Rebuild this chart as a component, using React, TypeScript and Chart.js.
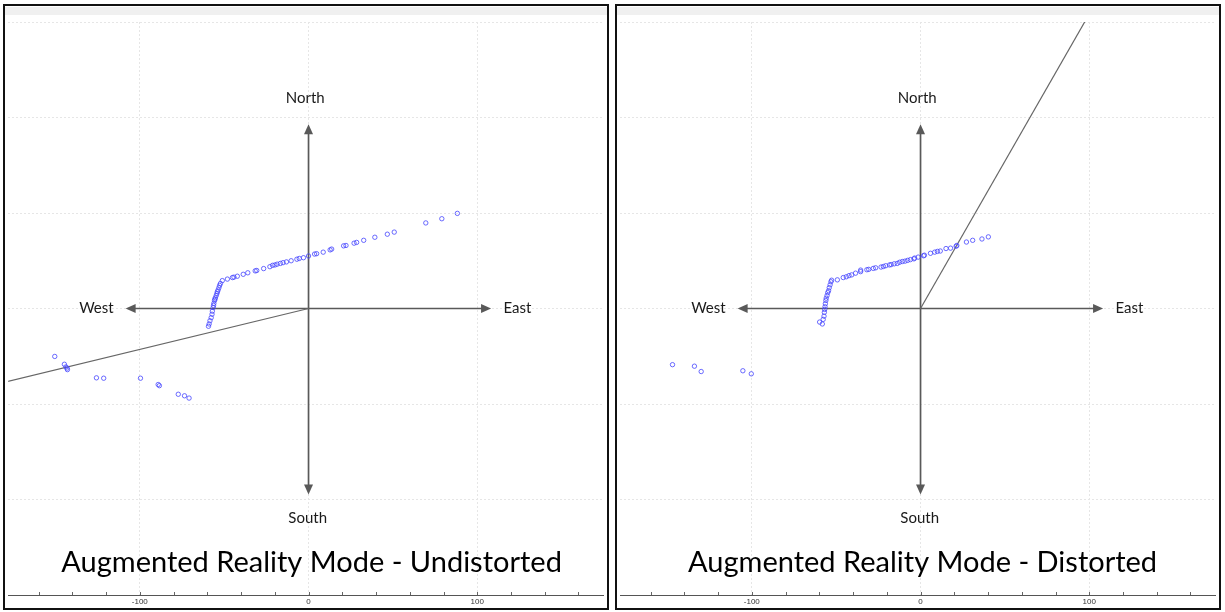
import React, { useEffect, useRef } from 'react';
import { Chart, registerables } from 'chart.js';

Chart.register(...registerables);

// ---- axis / grid values ----
const xTickValues = [-100, 0, 100];
const xMinorStep = 20;
const xRange = [-178, 175];
const yGridValues = [-150, -100, -50, 0, 50, 100, 150];
const yRange = [-150, 150];

// ---- compass (data units) ----
const compassLabels = ['North', 'South', 'West', 'East'];
const compassLabelX = [-2, -0.5, -115.5, 115.5];
const compassLabelY = [110, -110, 0, 0];
const compassAlign = ['center', 'center', 'right', 'left'];
const arrowTipX = [0, 0, -108.4, 108.2];
const arrowTipY = [96.5, -97.4, 0, 0];

// ---- titles ----
const titles = ['Augmented Reality Mode - Undistorted', 'Augmented Reality Mode - Distorted'];
const titleX = [1.8, 1.2];
const titleY = [-133, -133];

// ---- heading lines ----
const undistortedHeadingX = [0, -200];
const undistortedHeadingY = [0, -42.9];
const distortedHeadingX = [0, 100];
const distortedHeadingY = [0, 154.2];

// ---- measured points: undistorted ----
const undistortedX = [
  88.2, 79, 69.5, 50.8, 46.7, 39.3, 32.7, 28.5, 27, 22.2, 20.8, 13.7, 12.8, 8.7, 4.8, 3.6, 0,
  -3, -5.5, -6.9, -10.3, -13.1, -15.1, -16.7, -18.6, -19.9, -21.3, -22.9, -26.6, -30.7, -31.6,
  -36, -38.7, -42.2, -44.2, -45.1, -48.1,
  -51.1, -52.2, -52.7, -53.1, -53.6, -54, -54.3, -54.7, -55.2, -55.5, -55.7, -56.1, -56.3, -56.5,
  -57, -57.2, -57.7, -58.4, -58.9, -59.3,
  -150.4, -144.7, -143.8, -143.1, -142.9, -125.7, -121.4, -99.6, -89.1, -88.4, -77.2, -73.5, -70.8,
];
const undistortedY = [
  49.8, 47, 44.8, 40, 38.9, 37.3, 35.7, 34.6, 34.2, 33, 32.8, 31.1, 30.7, 29.5, 28.7, 28.5, 27.5,
  26.6, 26.2, 25.8, 25, 24.4, 24, 23.6, 23.2, 22.8, 22.6, 21.9, 20.9, 19.9, 19.7,
  18.7, 17.9, 16.9, 16.4, 16.2, 15.4,
  14.6, 13.1, 12.1, 10.9, 9.7, 8.8, 7.9, 6.8, 5.6, 4.9, 4.2, 2.7, 1.6, 0.5,
  -1.4, -3, -4.8, -6.4, -8.1, -9.3,
  -25.1, -29.2, -30.6, -31.2, -32, -36.3, -36.5, -36.5, -39.8, -40.4, -44.9, -45.7, -46.9,
];

// ---- measured points: distorted ----
const distortedX = [
  40.2, 36.4, 30.9, 27.2, 21.5, 21.1, 17.8, 15.1, 11.7, 10, 8.4, 5.9, 2.3, 1.8, -1.4, -3.5, -3.9,
  -6, -7.6, -9.2, -10.8, -12.4, -13.8, -15.6, -17.4, -18.4, -20.6, -22, -23.4, -26.6, -28, -30.7,
  -31.8, -35.5, -35.5, -38.5, -40.8, -42.4, -44, -45.8, -49.3,
  -52.7, -53.1, -53.6, -54.1, -54.5, -55, -55.4, -55.9, -56.1, -56.4, -56.6, -56.8, -57, -57.2,
  -57.7, -59.8, -58.2,
  -147, -134, -130, -105.3, -100.3,
];
const distortedY = [
  37.5, 36.4, 35.7, 34.8, 33, 32.6, 31.6, 31.4, 30.1, 29.9, 29.5, 28.9, 27.9, 27.6, 26.9, 26.4, 26,
  25.6, 25.2, 24.8, 24.6, 24.2, 23.6, 23.4, 23, 22.8, 22.4, 22, 21.7, 21.3, 21, 20.5,
  20.3, 20.1, 19.3, 18.5, 17.6, 17.2, 16.6, 16.2, 15,
  14.8, 14, 12.4, 10.9, 9.3, 8.3, 6.8, 5.4, 4.2, 2.5, 0.9, -0.5, -2, -4,
  -5.7, -7.1, -8.1,
  -29.4, -30.2, -33, -32.6, -34.2,
];

const LABEL_FONT = '15px Lato, "Open Sans", sans-serif';
const TITLE_FONT = '29px Lato, "Open Sans", sans-serif';

function makeOverlay(panelIndex: number) {
  return {
    id: 'compassOverlay' + panelIndex,
    beforeDatasetsDraw(chart: any) {
      const { ctx, scales } = chart;
      const xs = scales.x;
      const ys = scales.y;
      const ox = xs.getPixelForValue(0);
      const oy = ys.getPixelForValue(0);
      ctx.save();
      ctx.strokeStyle = '#595959';
      ctx.fillStyle = '#595959';
      ctx.lineWidth = 1.7;
      for (let i = 0; i < arrowTipX.length; i++) {
        const tx = xs.getPixelForValue(arrowTipX[i]);
        const ty = ys.getPixelForValue(arrowTipY[i]);
        const dx = tx - ox;
        const dy = ty - oy;
        const len = Math.hypot(dx, dy);
        const ux = dx / len;
        const uy = dy / len;
        const head = 10;
        const hw = 4.5;
        const bx = tx - ux * head;
        const by = ty - uy * head;
        ctx.beginPath();
        ctx.moveTo(ox, oy);
        ctx.lineTo(bx + ux, by + uy);
        ctx.stroke();
        ctx.beginPath();
        ctx.moveTo(tx, ty);
        ctx.lineTo(bx - uy * hw, by + ux * hw);
        ctx.lineTo(bx + uy * hw, by - ux * hw);
        ctx.closePath();
        ctx.fill();
      }
      // minor ticks on the bottom axis, pointing up into the plot
      ctx.lineWidth = 1;
      ctx.strokeStyle = '#666';
      const bottom = chart.chartArea.bottom;
      const start = Math.ceil(xs.min / xMinorStep) * xMinorStep;
      for (let v = start; v <= xs.max; v += xMinorStep) {
        const px = Math.round(xs.getPixelForValue(v)) + 0.5;
        ctx.beginPath();
        ctx.moveTo(px, bottom);
        ctx.lineTo(px, bottom - 3);
        ctx.stroke();
      }
      ctx.restore();
    },
    afterDatasetsDraw(chart: any) {
      const { ctx, scales } = chart;
      const xs = scales.x;
      const ys = scales.y;
      ctx.save();
      ctx.fillStyle = '#1a1a1a';
      ctx.textBaseline = 'middle';
      ctx.font = LABEL_FONT;
      for (let i = 0; i < compassLabels.length; i++) {
        ctx.textAlign = compassAlign[i];
        ctx.fillText(compassLabels[i], xs.getPixelForValue(compassLabelX[i]), ys.getPixelForValue(compassLabelY[i]));
      }
      ctx.font = TITLE_FONT;
      ctx.fillStyle = '#000';
      ctx.textAlign = 'center';
      ctx.fillText(titles[panelIndex], xs.getPixelForValue(titleX[panelIndex]), ys.getPixelForValue(titleY[panelIndex]));
      ctx.restore();
    },
  };
}

type PanelProps = {
  panelIndex: number;
  left: number;
  xs: number[];
  ys: number[];
  hx: number[];
  hy: number[];
};

function Panel({ panelIndex, left, xs, ys, hx, hy }: PanelProps) {
  const ref = useRef<HTMLCanvasElement>(null);
  useEffect(() => {
    if (!ref.current) return;
    const chart = new Chart(ref.current, {
      type: 'scatter',
      data: {
        datasets: [
          {
            data: xs.map((v, i) => ({ x: v, y: ys[i] })),
            pointRadius: 2.2,
            pointHoverRadius: 2.2,
            borderWidth: 1,
            borderColor: 'rgba(70,70,255,0.8)',
            backgroundColor: 'rgba(255,255,255,0)',
          },
          {
            data: hx.map((v, i) => ({ x: v, y: hy[i] })),
            showLine: true,
            pointRadius: 0,
            borderColor: '#666',
            borderWidth: 1.2,
          },
        ],
      },
      options: {
        animation: false,
        responsive: false,
        events: [],
        layout: { padding: { top: 16, left: 0, right: 0, bottom: 0 } },
        plugins: {
          legend: { display: false },
          tooltip: { enabled: false },
          title: { display: false },
        },
        scales: {
          x: {
            type: 'linear',
            min: xRange[0],
            max: xRange[1],
            afterBuildTicks: (s: any) => {
              s.ticks = xTickValues.map((value) => ({ value }));
            },
            afterFit: (s: any) => {
              s.height = 13;
            },
            grid: { color: '#e6e6e6', drawTicks: false, lineWidth: 1 },
            border: { display: true, color: '#555', width: 1, dash: [2, 2] },
            ticks: {
              padding: 2,
              color: '#333',
              font: { size: 8, family: '"Liberation Sans", Arial, sans-serif' },
              callback: (v: any) => String(v),
            },
          },
          y: {
            type: 'linear',
            min: yRange[0],
            max: yRange[1],
            afterBuildTicks: (s: any) => {
              s.ticks = yGridValues.map((value) => ({ value }));
            },
            afterFit: (s: any) => {
              s.width = 0;
            },
            grid: { color: '#e6e6e6', drawTicks: false, lineWidth: 1 },
            border: { display: false, dash: [2, 2] },
            ticks: { display: false },
          },
        },
      },
      plugins: [makeOverlay(panelIndex)],
    } as any);
    return () => chart.destroy();
  }, []);

  return (
    <div
      style={{
        position: 'absolute',
        left,
        top: 4,
        width: 606,
        height: 606,
        boxSizing: 'border-box',
        border: '2px solid #111',
        background: '#fff',
      }}
    >
      <canvas ref={ref} width={602} height={602} style={{ position: 'absolute', left: 0, top: 0, width: 602, height: 602 }} />
      <div style={{ position: 'absolute', left: 0, top: 1, width: 602, height: 8, background: '#f0f0f0' }} />
    </div>
  );
}

export default function App() {
  return (
    <div style={{ position: 'absolute', left: 0, top: 0, width: 1225, height: 612, background: '#fff', overflow: 'hidden' }}>
      <Panel panelIndex={0} left={3} xs={undistortedX} ys={undistortedY} hx={undistortedHeadingX} hy={undistortedHeadingY} />
      <Panel panelIndex={1} left={615} xs={distortedX} ys={distortedY} hx={distortedHeadingX} hy={distortedHeadingY} />
    </div>
  );
}
